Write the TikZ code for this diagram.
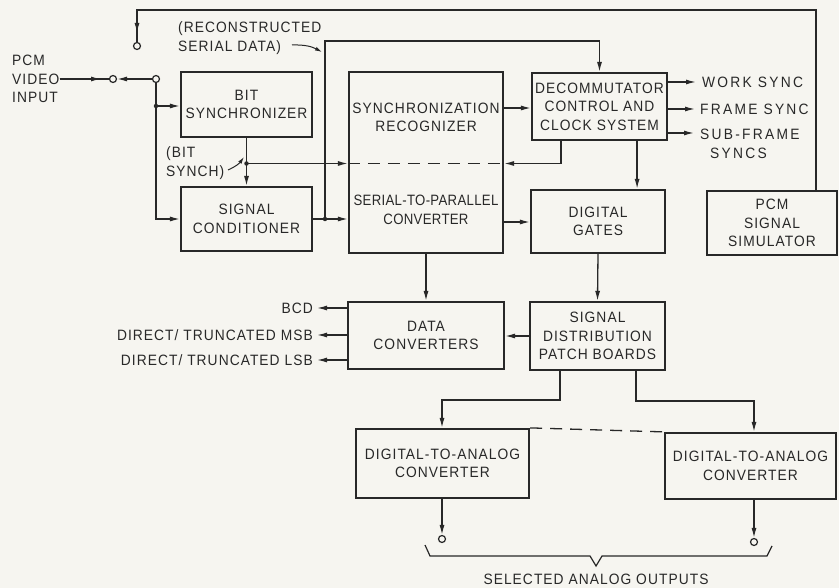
\documentclass[tikz,border=0pt]{standalone}
\usepackage{fontspec}
\setmainfont{Liberation Sans}[FakeStretch=0.92, LetterSpace=7]
\newfontfamily\tightfont{Liberation Sans}[FakeStretch=0.88, LetterSpace=2]
\newfontfamily\widefont{Liberation Sans}[FakeStretch=0.92, LetterSpace=15]
\usetikzlibrary{arrows.meta,calc}
\definecolor{ink}{RGB}{40,40,40}
\definecolor{paper}{RGB}{246,245,240}
\newcommand{\lblfont}{\fontsize{15}{18.5}\selectfont}
\tikzset{
  box/.style={draw=ink, line width=2.2pt, inner sep=0pt, align=center, font=\lblfont, text=ink},
  txt/.style={inner sep=0pt, align=center, font=\lblfont, text=ink},
  wtxt/.style={txt, font=\lblfont\widefont},
  wire/.style={draw=ink, line width=1.3pt},
  arr/.style={wire, -{Latex[length=10pt,width=5pt]}},
  sarr/.style={draw=ink, line width=1pt, -{Latex[length=7pt,width=4pt]}},
  port/.style={circle, draw=ink, fill=paper, line width=1.2pt, minimum size=7pt, inner sep=0pt},
  jdot/.style={circle, fill=ink, minimum size=4.5pt, inner sep=0pt},
  dsh/.style={wire, dash pattern=on 12pt off 8pt}
}
\begin{document}
\begin{tikzpicture}[x=1pt,y=-1pt]
\fill[paper] (0,0) rectangle (839,588);
\useasboundingbox (0,0) rectangle (839,588);

% boxes
\node[box, minimum width=131pt, minimum height=65pt] (bits) at (246.5,104.5) {BIT\\SYNCHRONIZER};
\node[box, minimum width=131pt, minimum height=64pt] (cond) at (246.5,219) {SIGNAL\\CONDITIONER};
\node[box, minimum width=154pt, minimum height=181pt] (big) at (426,162.5) {};
\node[txt] (recog) at (426,117.5) {SYNCHRONIZATION\\RECOGNIZER};
\node[txt, font=\lblfont\tightfont] (s2p) at (426,210) {SERIAL-TO-PARALLEL\\CONVERTER};
\node[box, minimum width=135pt, minimum height=67pt] (dec) at (599.5,106.5) {DECOMMUTATOR\\CONTROL AND\\CLOCK SYSTEM};
\node[box, minimum width=134pt, minimum height=63pt] (gates) at (598,221.5) {DIGITAL\\GATES};
\node[box, minimum width=130pt, minimum height=64pt] (sim) at (772,223) {PCM\\SIGNAL\\SIMULATOR};
\node[box, minimum width=156pt, minimum height=67pt] (dconv) at (426,335.5) {DATA\\CONVERTERS};
\node[box, minimum width=135pt, minimum height=68pt] (sdist) at (597.5,336) {SIGNAL\\DISTRIBUTION\\PATCH BOARDS};
\node[box, minimum width=173pt, minimum height=69pt] (da1) at (442.5,463.5) {DIGITAL-TO-ANALOG\\CONVERTER};
\node[box, minimum width=171pt, minimum height=66pt] (da2) at (750.5,466) {DIGITAL-TO-ANALOG\\CONVERTER};

% ports and junctions
\node[port] (pin) at (113,79) {};
\node[port] (psw) at (156,79) {};
\node[port] (ptop) at (137,46) {};
\node[port] (o1) at (442,539) {};
\node[port] (o2) at (754,542) {};
\node[jdot] (j1) at (156,106) {};
\node[jdot] (j2) at (246.5,163.5) {};
\node[jdot] (j3) at (325,219) {};

% labels
\node[txt, align=left, anchor=west] (pcm) at (12,79) {PCM\\VIDEO\\INPUT};
\node[txt, align=left, anchor=west] (bsl) at (166,163) {(BIT\\SYNCH)};
\node[txt, align=left, anchor=west] (rsd) at (178,38) {(RECONSTRUCTED\\SERIAL DATA)};
\node[wtxt, anchor=west] (ws) at (702,82) {WORK SYNC};
\node[wtxt, anchor=west] (fs) at (700,109) {FRAME SYNC};
\node[wtxt, anchor=north west, align=left] (sfs) at (700,129) {SUB-FRAME\\\hspace*{10pt}SYNCS};
\node[txt, anchor=east] (bcd) at (313,308) {BCD};
\node[txt, anchor=east] (msb) at (313,335) {DIRECT/ TRUNCATED MSB};
\node[txt, anchor=east] (lsb) at (313,360) {DIRECT/ TRUNCATED LSB};
\node[txt] (sel) at (596,579) {SELECTED ANALOG OUTPUTS};

% input and switch
\draw[wire] (pcm.east) -- (pin.west);
\draw[arr] (pcm.east) -- (101,79);
\draw[arr] (psw.west) -- (pin.east);
\draw[wire] (psw.south) -- (j1.center);
\draw[arr] (j1.center) -- (bits.west |- j1);
\draw[arr] (j1.center) |- (cond.west);

% bit synch
\draw[arr] (bits.south) -- (cond.north);
\draw[arr] (j2.center) -- (big.west |- j2);
\draw[dsh] (big.west |- j2) -- (big.east |- j2);
\draw[sarr] (228,170) to[bend right=15] (244,157);

% conditioner to big box and reconstructed data
\draw[arr] (cond.east) -- (big.west |- cond.east);
\coordinate (rc) at (dec.north |- 0,41);
\draw[arr] (j3.center) |- (rc) -- (dec.north);
\draw[sarr] (292,45) to[bend left=15] (322,52);

% big box to decommutator and gates
\draw[arr] (big.east |- 0,108) -- (dec.west |- 0,108);
\draw[arr] (big.east |- 0,222) -- (gates.west |- 0,222);
\coordinate (d1) at ($(dec.south west)+(30,0)$);
\draw[arr] (d1) |- (big.east |- j2);
\coordinate (d2) at ($(dec.south east)+(-31,0)$);
\draw[arr] (d2) -- (d2 |- gates.north);

% decommutator outputs
\draw[arr] (dec.east |- ws) -- ($(ws.west)+(-6,0)$);
\draw[arr] (dec.east |- fs) -- ($(fs.west)+(-5,0)$);
\draw[arr] (dec.east |- 0,133) -- (694,133);

% simulator feedback
\coordinate (tp) at (ptop |- 0,10);
\draw[wire] (sim.north -| 816,0) |- (tp) -- (ptop.north);
\draw[arr] (tp) -- (ptop |- 0,33);

% lower part
\draw[arr] (big.south) -- (dconv.north);
\draw[arr] (gates.south) -- (sdist.north);
\draw[arr] (sdist.west) -- (dconv.east |- sdist.west);
\draw[arr] (dconv.west |- bcd) -- ($(bcd.east)+(4,0)$);
\draw[arr] (dconv.west |- msb) -- ($(msb.east)+(4,0)$);
\draw[arr] (dconv.west |- lsb) -- ($(lsb.east)+(4,0)$);

\coordinate (s1) at ($(sdist.south west)+(31,0)$);
\coordinate (s2) at ($(sdist.south east)+(-30,0)$);
\draw[arr] (s1) -- (s1 |- 0,400) -| (o1 |- da1.north);
\draw[arr] (s2) -- (s2 |- 0,401) -| (o2 |- da2.north);
\draw[dsh] (da1.north east) -- (da2.north west);

\draw[arr] (o1 |- da1.south) -- (o1.north);
\draw[arr] (o2 |- da2.south) -- (o2.north);

% brace
\draw[wire, line width=1.2pt, line join=miter] (425,545) -- (430,556) -- (590,556) -- (596,566) -- (602,556) -- (767,556) -- (772,546);
\end{tikzpicture}
\end{document}
